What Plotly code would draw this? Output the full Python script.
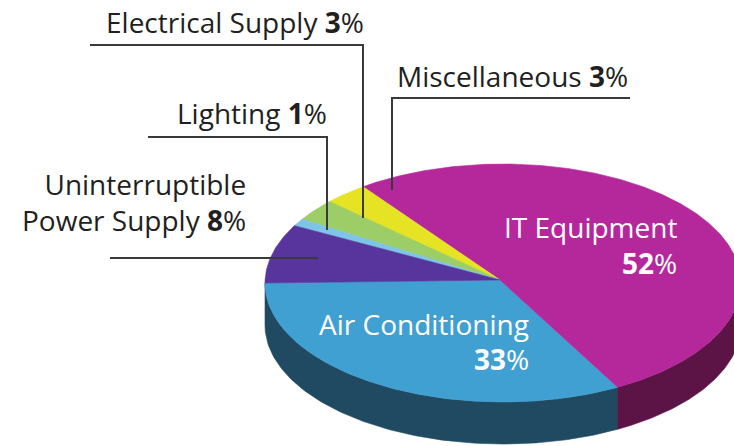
import numpy as np
import plotly.graph_objects as go

# ---- data ----
categories = ["Air Conditioning", "IT Equipment", "Miscellaneous", "Electrical Supply", "Lighting", "Uninterruptible Power Supply"]
values = [33, 52, 3, 3, 1, 8]
top_colors = ["#41A0D2", "#B5289B", "#E6E224", "#9DCD66", "#7EC4E6", "#58359D"]
side_colors = ["#1F4A62", "#5C1346", "#6b6a10", "#4a6a2a", "#3a6a80", "#2a1a50"]

# ---- geometry of the tilted pie (pixel-like data space) ----
CX, CY, A, B, DEPTH = 503, 283, 238, 119, 42
APEX = (500, 280)
START = 180.0  # degrees, slices go counter-clockwise on the page (downwards first)

def rim(theta_deg, dy=0.0):
    t = np.radians(theta_deg)
    return CX + A * np.cos(t), CY - B * np.sin(t) + dy

fig = go.Figure()

total = float(sum(values))
bounds = []
ang = START
for v in values:
    span = 360.0 * v / total
    bounds.append((ang, ang + span))
    ang += span

# side faces (front half: 180..360 degrees)
for (t1, t2), col in zip(bounds, side_colors):
    lo, hi = max(t1, 180.0), min(t2, 360.0)
    if hi <= lo:
        continue
    th = np.linspace(lo, hi, 120)
    xt, yt = rim(th)
    xb, yb = rim(th[::-1], DEPTH)
    xs = np.concatenate([xt, xb, xt[:1]])
    ys = np.concatenate([yt, yb, yt[:1]])
    fig.add_trace(go.Scatter(x=xs, y=ys, mode="lines", fill="toself",
                             fillcolor=col, line=dict(color=col, width=0.6),
                             hoverinfo="skip", showlegend=False))

# top faces
for (t1, t2), col, name in zip(bounds, top_colors, categories):
    th = np.linspace(t1, t2, max(8, int((t2 - t1) * 2)))
    xr, yr = rim(th)
    xs = np.concatenate([[APEX[0]], xr, [APEX[0]]])
    ys = np.concatenate([[APEX[1]], yr, [APEX[1]]])
    fig.add_trace(go.Scatter(x=xs, y=ys, mode="lines", fill="toself",
                             fillcolor=col, line=dict(color=col, width=0.6),
                             name=name, hoverinfo="name", showlegend=False))

# leader lines
LC = "#3a3a3a"
leaders = [
    ([90, 363, 363], [45, 45, 218]),
    ([630, 392, 392], [98, 98, 190]),
    ([148, 327, 327], [137, 137, 230]),
    ([110, 318], [258, 258]),
]
for lx, ly in leaders:
    fig.add_trace(go.Scatter(x=lx, y=ly, mode="lines", line=dict(color=LC, width=2),
                             hoverinfo="skip", showlegend=False))

FONT = "Open Sans"
FS = 28
DARK = "#231F20"

def pct(i):
    return f"<b>{values[i]}</b>%"

labels = [
    (f"Electrical Supply {pct(3)}", 365, 22, DARK),
    (f"Miscellaneous {pct(2)}", 629, 76, DARK),
    (f"Lighting {pct(4)}", 328, 113, DARK),
    (f"Uninterruptible<br>Power Supply {pct(5)}", 247, 202, DARK),
    ("IT Equipment", 678, 227, "white"),
    (pct(1), 678, 263, "white"),
    ("Air Conditioning", 530, 324, "white"),
    (pct(0), 530, 359, "white"),
]
for txt, x, y, c in labels:
    fig.add_annotation(x=x, y=y, text=txt, showarrow=False, xanchor="right", yanchor="middle",
                       align="right", font=dict(family=FONT, size=FS, color=c), borderpad=0)

fig.update_layout(
    width=734, height=446, margin=dict(l=0, r=0, t=0, b=0),
    paper_bgcolor="white", plot_bgcolor="white",
    xaxis=dict(range=[0, 734], visible=False, fixedrange=True),
    yaxis=dict(range=[446, 0], visible=False, fixedrange=True),
)
fig.write_html("out.html", config={"displayModeBar": False},
               post_script="document.body.style.margin='0';document.body.style.overflow='hidden';")
